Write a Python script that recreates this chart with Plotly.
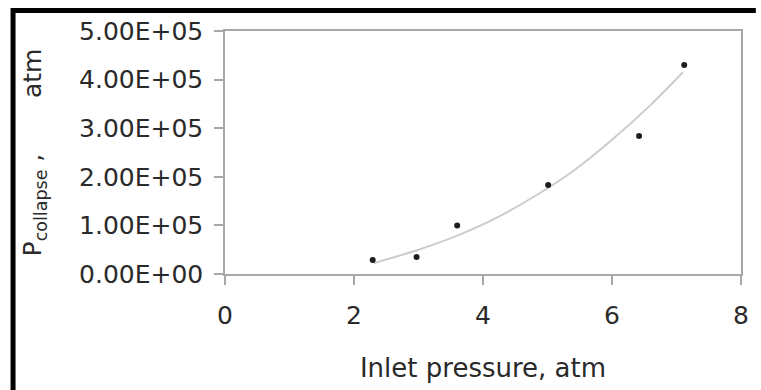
import plotly.graph_objects as go

# Data
inlet_pressure = [2.29, 2.97, 3.60, 5.01, 6.42, 7.12]
p_collapse = [2.9e4, 3.5e4, 1.0e5, 1.83e5, 2.84e5, 4.30e5]

# Trendline
trend_x = [2.30, 3.00, 3.60, 4.20, 4.80, 5.40, 6.00, 6.60, 7.10]
trend_y = [2.2e4, 5.0e4, 7.9e4, 1.15e5, 1.60e5, 2.12e5, 2.76e5, 3.48e5, 4.15e5]

x_tick_vals = [0, 2, 4, 6, 8]
x_tick_labels = ["0", "2", "4", "6", "8"]
y_tick_vals = [0, 1e5, 2e5, 3e5, 4e5, 5e5]
y_tick_labels = ["0.00E+00", "1.00E+05", "2.00E+05", "3.00E+05", "4.00E+05", "5.00E+05"]

FONT = "DejaVu Sans"
W, H = 761, 390
L, R, T, B = 225, 746, 31, 274

fig = go.Figure()
fig.add_trace(go.Scatter(x=trend_x, y=trend_y, mode="lines",
                         line=dict(color="#cccccc", width=2, shape="spline", smoothing=0.8),
                         hoverinfo="skip", showlegend=False))
fig.add_trace(go.Scatter(x=inlet_pressure, y=p_collapse, mode="markers",
                         marker=dict(color="#1e1e1e", size=6),
                         showlegend=False))

axis_common = dict(showgrid=False, zeroline=False, showline=True, linecolor="#a8a8a8",
                   linewidth=1.5, mirror=True, ticks="outside", ticklen=9,
                   tickcolor="#a8a8a8", tickwidth=1.5,
                   tickfont=dict(family=FONT, size=25, color="#2a2a2a"))

fig.update_xaxes(range=[0, 8], tickmode="array", tickvals=x_tick_vals, ticktext=x_tick_labels,
                 ticklabelstandoff=9,
                 title=dict(text="Inlet pressure, atm", font=dict(family=FONT, size=26, color="#2a2a2a"),
                            standoff=30),
                 **axis_common)
fig.update_yaxes(range=[0, 5e5], tickmode="array", tickvals=y_tick_vals, ticktext=y_tick_labels,
                 ticklabelstandoff=6,
                 title=dict(text="P<sub>collapse</sub> ,\u00a0\u00a0\u00a0\u00a0\u00a0\u00a0 atm",
                            font=dict(family=FONT, size=25, color="#2a2a2a"), standoff=30),
                 **axis_common)

pw, ph = R - L, B - T
def px(x): return (x - L) / pw
def py(y): return (B - y) / ph

fig.update_layout(
    width=W, height=H,
    margin=dict(l=L, r=W - R, t=T, b=H - B, pad=0),
    paper_bgcolor="white", plot_bgcolor="white",
    shapes=[
        dict(type="line", xref="paper", yref="paper", x0=px(9), x1=px(761), y0=py(10.5), y1=py(10.5),
             line=dict(color="black", width=5)),
        dict(type="line", xref="paper", yref="paper", x0=px(11), x1=px(11), y0=py(8), y1=py(390),
             line=dict(color="black", width=5)),
    ],
)

fig.write_html("out.html")
